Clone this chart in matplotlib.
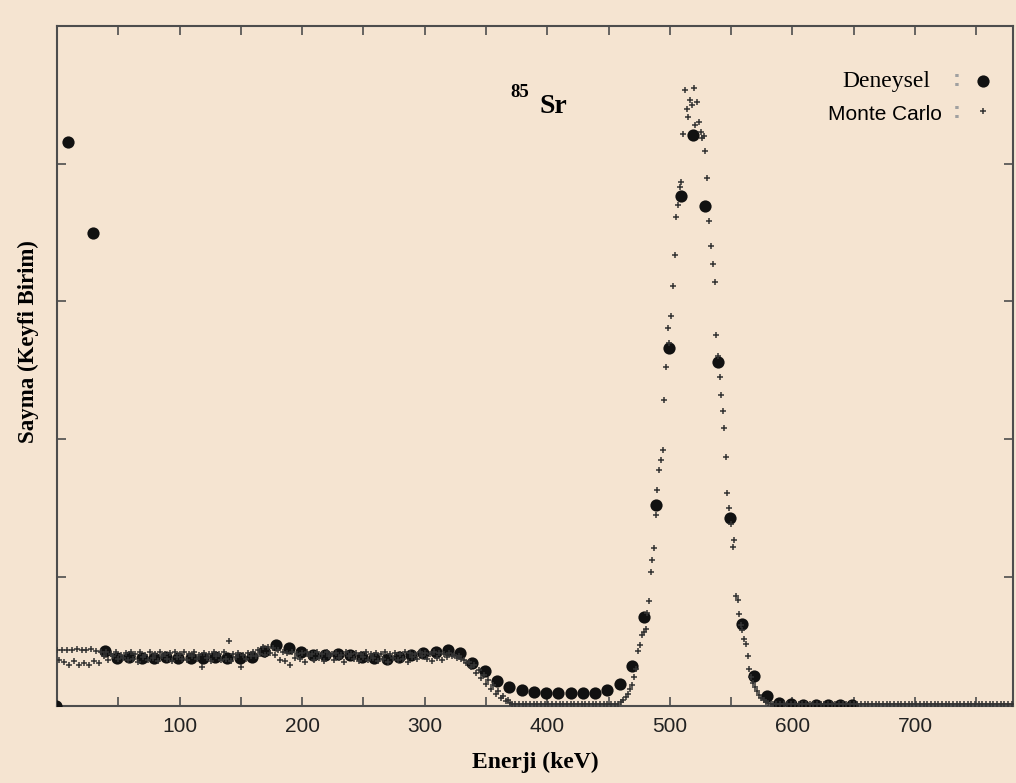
import numpy as np
import matplotlib.pyplot as plt

# Deneysel (experiment) - big black dots, energy in keV, counts in arbitrary units
den_energy = [-1, 9, 29] + list(range(39, 650, 10))
den_counts = [60, 4155, 3494,
              460, 407, 417, 407, 407, 415, 407, 407, 410, 415,
              407, 407, 415, 460, 502, 482, 451, 429, 429, 436,
              429, 417, 407, 400, 415, 429, 443, 453, 465, 443,
              373, 315, 240, 199, 175, 160, 153, 153, 153, 153,
              153, 177, 218, 351, 707, 1523, 2660, 3766, 4209, 3693,
              2558, 1425, 659, 276, 133, 82, 73, 69, 66, 66,
              66, 66]

# Monte Carlo - low energy part, 0..370 keV every 2 keV
mc_low_energy = list(range(0, 371, 2))
mc_low_counts = [470, 395, 465, 380, 470, 360, 465, 385, 475, 360,
                 470, 375, 465, 355, 475, 390, 460, 370, 455, 420,
                 450, 395, 440, 420, 455, 400, 430, 410, 445, 395,
                 450, 405, 440, 380, 455, 415, 430, 395, 450, 410,
                 440, 385, 455, 420, 435, 400, 445, 390, 450, 415,
                 435, 400, 450, 395, 440, 420, 455, 405, 430, 345,
                 445, 410, 440, 385, 450, 420, 435, 395, 455, 405,
                 535, 390, 440, 415, 445, 340, 430, 405, 445, 420,
                 455, 420, 470, 440, 485, 430, 490, 445, 480, 430,
                 470, 395, 455, 385, 445, 360, 450, 410, 440, 400,
                 445, 380, 450, 420, 440, 395, 455, 410, 435, 385,
                 450, 420, 440, 395, 445, 410, 430, 380, 450, 420,
                 440, 400, 445, 390, 435, 415, 450, 395, 440, 410,
                 445, 385, 435, 405, 450, 380, 440, 410, 445, 395,
                 440, 405, 450, 380, 445, 415, 435, 400, 450, 420,
                 445, 400, 440, 385, 450, 410, 445, 395, 440, 415,
                 445, 420, 430, 410, 420,
                 405, 395, 370, 380, 340, 355, 300, 320, 260, 285,
                 220, 250, 180, 210, 150, 170, 120, 130, 95, 100, 80]

# Monte Carlo - photopeak region
mc_peak_energy = [458, 460, 462, 464, 466, 467.5, 468.9, 470.5, 472, 474.3,
                  476, 477.6, 479, 480.4, 481.7, 483, 484.4, 485.8, 487.1, 488.5,
                  489.8, 491.4, 492.8, 494.2, 495.3, 497.2, 498.3, 499.7, 501, 502.5,
                  504, 505.3, 506.7, 508, 509.4, 510.8, 512.4, 513.7, 515, 516.5,
                  517.8, 519.5, 520.7, 521.9, 523.5, 525.2, 526.5, 527.7, 528.9, 530.3,
                  531.7, 533.3, 535.2, 536.8, 537.9, 539.3, 540.7, 542.1, 543.3, 544.2,
                  545.6, 546.9, 548.2, 549.7, 551.3, 552.6, 553.7, 555.3, 556.8, 558,
                  559.1, 560.7, 562.1, 563.5, 565, 566.5, 568, 569.5, 571, 572.8,
                  574.5, 576.5, 578.5, 580.5, 582.5, 584.5]
mc_peak_counts = [78, 90, 105, 125, 150, 185, 213, 270, 330, 463,
                  500, 575, 600, 623, 739, 822, 1033, 1120, 1207, 1450,
                  1629, 1776, 1850, 1919, 2282, 2522, 2805, 2700, 2896, 3110,
                  3338, 3610, 3700, 3832, 3868, 4215, 4535, 4400, 4337, 4462,
                  4424, 4549, 4280, 4450, 4302, 4228, 4188, 4200, 4092, 3896,
                  3583, 3401, 3273, 3140, 2757, 2600, 2450, 2322, 2200, 2079,
                  1870, 1611, 1500, 1380, 1216, 1265, 858, 829, 730, 650,
                  611, 548, 509, 420, 330, 272, 230, 200, 170, 140,
                  120, 105, 92, 84, 78, 74]

# Monte Carlo - flat baseline (valley and high energy tail)
mc_base_energy = list(range(371, 456, 3)) + list(range(587, 780, 3))
mc_base_counts = [74, 73, 73, 74, 73, 72, 73, 74, 73, 73,
                  72, 73, 74, 73, 73, 72, 73, 74, 73, 73,
                  74, 73, 72, 73, 73, 74, 73, 74, 75,
                  72, 72, 71, 72, 72, 71, 72, 72, 71, 72,
                  72, 71, 72, 72, 71, 72, 72, 71, 72, 72,
                  71, 72, 72, 71, 72, 72, 71, 72, 72, 71,
                  72, 72, 71, 72, 72, 71, 72, 72, 71, 72,
                  72, 71, 72, 72, 71, 72, 72, 71, 72, 72,
                  71, 72, 72, 71, 72, 72, 71, 72, 72, 71,
                  72, 72, 71, 72, 72]

x_ticks = [100, 200, 300, 400, 500, 600, 700]
y_ticks = [1000, 2000, 3000, 4000, 5000]

W, H = 1016, 783
bg = '#F5E4D1'
ink = '#4d4d4d'


def px(x, y):
    return x / W, 1 - y / H


fig = plt.figure(figsize=(W / 100, H / 100), dpi=100, facecolor=bg)
ax = fig.add_axes([57 / W, 1 - 706 / H, (1013 - 57) / W, (706 - 26) / H], facecolor=bg)

ax.plot(den_energy, den_counts, 'o', color='#111111', ms=8.8, mew=0, zorder=3)
mc_e = mc_low_energy + mc_peak_energy + mc_base_energy
mc_c = mc_low_counts + mc_peak_counts + mc_base_counts
ax.plot(mc_e, mc_c, '+', color='#333333', ms=4.0, mew=1.1, zorder=4)

ax.set_xlim(0, 780)
ax.set_ylim(60, 5000)

ax.set_xticks(x_ticks)
ax.set_xticks(np.arange(50, 800, 100), minor=True)
ax.set_yticks(y_ticks)
ax.set_yticklabels([])
ax.tick_params(which='both', direction='in', length=6.5, width=1.2, color=ink,
               top=True, right=True, pad=8)
ax.tick_params(axis='x', labelsize=15, labelcolor='#222222')
for lab in ax.get_xticklabels():
    lab.set_family('Liberation Sans')
for sp in ax.spines.values():
    sp.set_color(ink)
    sp.set_linewidth(1.5)

# axis titles
fig.text(*px(535, 762), 'Enerji (keV)', ha='center', va='center',
         family='Liberation Serif', weight='bold', size=17)
fig.text(*px(28, 342), 'Sayma (Keyfi Birim)', ha='center', va='center', rotation=90,
         family='Liberation Serif', weight='bold', size=16.5)

# isotope label
fig.text(*px(510.7, 96.7), '85', ha='left', va='baseline',
         family='Liberation Serif', weight='bold', size=13.5)
fig.text(*px(539.3, 113.3), 'Sr', ha='left', va='baseline',
         family='Liberation Serif', weight='bold', size=20)

# legend
fig.text(*px(930, 86.7), 'Deneysel', ha='right', va='baseline',
         family='Liberation Serif', size=17)
fig.text(*px(942, 120), 'Monte Carlo', ha='right', va='baseline',
         family='Liberation Sans', size=15)
for yy in (80, 112):
    fig.text(*px(957, yy), ':', ha='center', va='center', color='#a0a0a0',
             family='Liberation Sans', size=17, weight='bold')
fig.lines.append(plt.Line2D([983 / W], [1 - 81 / H], marker='o', color='#111111',
                            ms=8.8, mew=0, transform=fig.transFigure, figure=fig))
fig.lines.append(plt.Line2D([983 / W], [1 - 111 / H], marker='+', color='#333333',
                            ms=4.0, mew=1.1, transform=fig.transFigure, figure=fig))

fig.savefig('out.png', dpi=100, facecolor=bg)
